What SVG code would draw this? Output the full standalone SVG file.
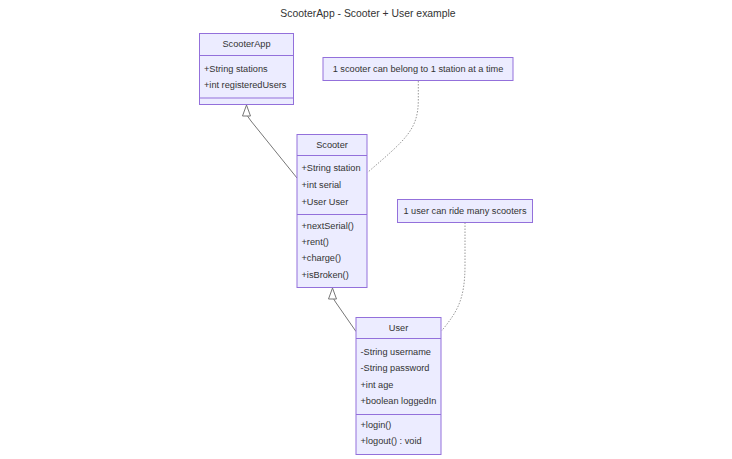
<svg xmlns="http://www.w3.org/2000/svg" width="732" height="459" viewBox="0 0 732 459">
<style>
  .box { fill: #ECECFF; stroke: #9370DB; stroke-width: 1; }
  .div { stroke: #9370DB; stroke-width: 1; }
  .t { font-family: "Liberation Sans", Arial, sans-serif; font-size: 9.2px; fill: #333; dominant-baseline: central; }
  .c { text-anchor: middle; }
  .title { font-family: "Liberation Sans", Arial, sans-serif; font-size: 10.4px; fill: #333; text-anchor: middle; dominant-baseline: central; }
  .rel { fill: none; stroke: #777; stroke-width: 1; }
  .note { fill: none; stroke: #999; stroke-width: 1; stroke-dasharray: 1.5 1.5; }
</style>
<defs>
  <marker id="inh" markerUnits="userSpaceOnUse" markerWidth="12" markerHeight="10" viewBox="0 0 12 10" refX="11.5" refY="5" orient="auto">
    <path d="M0.5,1 L11.5,5 L0.5,9 Z" fill="#fff" stroke="#777" stroke-width="1"/>
  </marker>
</defs>
<rect width="732" height="459" fill="#fff"/>
<text class="title" x="368" y="13">ScooterApp - Scooter + User example</text>

<g id="connectors">
  <path class="rel" d="M297,178 L251,121 Q246.5,116 246.5,112 L246.5,105" marker-end="url(#inh)"/>
  <path class="rel" d="M356,331.5 L335.5,302 Q332.5,298 332.5,295 L332.5,288" marker-end="url(#inh)"/>
  <path class="note" d="M418.3,81 L418.3,100 C418.3,130 405,140 367.5,172.5"/>
  <path class="note" d="M465,222.5 L465,265 C465,300 457,312 441.5,331"/>
</g>

<g id="ScooterApp">
  <rect class="box" x="199.5" y="33.5" width="94" height="71"/>
  <line class="div" x1="199.5" y1="55.5" x2="293.5" y2="55.5"/>
  <line class="div" x1="199.5" y1="98" x2="293.5" y2="98"/>
  <text class="t c" x="246.5" y="44">ScooterApp</text>
  <text class="t" x="204" y="68.5">+String stations</text>
  <text class="t" x="204" y="84.5">+int registeredUsers</text>
</g>

<g id="Scooter">
  <rect class="box" x="297" y="134.5" width="70" height="153"/>
  <line class="div" x1="297" y1="155.5" x2="367" y2="155.5"/>
  <line class="div" x1="297" y1="214.5" x2="367" y2="214.5"/>
  <text class="t c" x="332" y="145">Scooter</text>
  <text class="t" x="301.5" y="168">+String station</text>
  <text class="t" x="301.5" y="185">+int serial</text>
  <text class="t" x="301.5" y="201.5">+User User</text>
  <text class="t" x="301.5" y="225.5">+nextSerial()</text>
  <text class="t" x="301.5" y="242">+rent()</text>
  <text class="t" x="301.5" y="258">+charge()</text>
  <text class="t" x="301.5" y="274.5">+isBroken()</text>
</g>

<g id="User">
  <rect class="box" x="356" y="317.5" width="85" height="137"/>
  <line class="div" x1="356" y1="338.5" x2="441" y2="338.5"/>
  <line class="div" x1="356" y1="414.5" x2="441" y2="414.5"/>
  <text class="t c" x="398.5" y="328">User</text>
  <text class="t" x="360.5" y="351.5">-String username</text>
  <text class="t" x="360.5" y="367.5">-String password</text>
  <text class="t" x="360.5" y="384.5">+int age</text>
  <text class="t" x="360.5" y="401">+boolean loggedIn</text>
  <text class="t" x="360.5" y="425">+login()</text>
  <text class="t" x="360.5" y="440.5">+logout() : void</text>
</g>

<g id="note1">
  <rect class="box" x="323" y="57.5" width="190" height="23"/>
  <text class="t c" x="418" y="69">1 scooter can belong to 1 station at a time</text>
</g>

<g id="note2">
  <rect class="box" x="397.5" y="199.5" width="135" height="23"/>
  <text class="t c" x="465" y="211">1 user can ride many scooters</text>
</g>
</svg>
